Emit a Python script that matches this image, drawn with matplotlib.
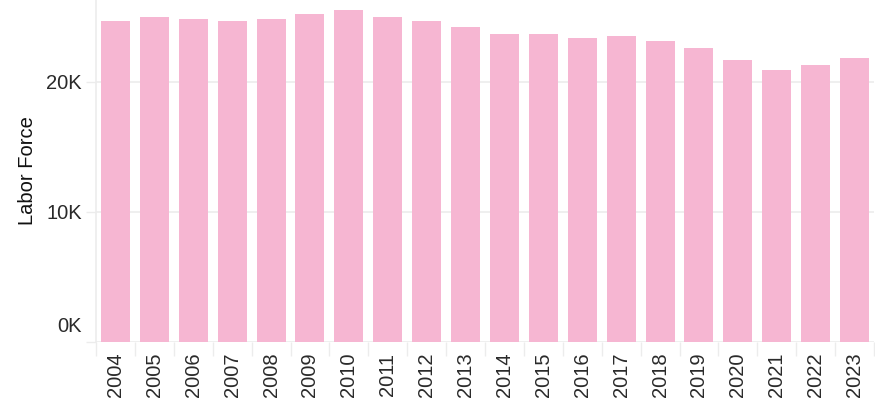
import numpy as np
import matplotlib
matplotlib.use("Agg")
import matplotlib.pyplot as plt
import matplotlib.transforms as mtransforms

# Labor force by year
years = [str(y) for y in range(2004, 2024)]
labor_force = [24680, 24990, 24830, 24680, 24830, 25220, 25530, 24990, 24680, 24220,
               23680, 23680, 23370, 23520, 23140, 22600, 21670, 20910, 21280, 21830]
y_ticks = [0, 10000, 20000]
y_tick_labels = ["0K", "10K", "20K"]

plt.rcParams['font.family'] = ['Liberation Sans', 'DejaVu Sans']

fig = plt.figure(figsize=(8.75, 4.04), dpi=100)
ax = fig.add_axes([96 / 875, 1 - 341.6 / 404, 778 / 875, 341.6 / 404])

x = np.arange(len(years))
ax.bar(x, labor_force, width=0.745, color="#f6b6d2", zorder=2)

ax.set_xlim(-0.5, len(years) - 0.5)
ax.set_ylim(0, 26300)

ax.set_yticks(y_ticks)
ax.set_yticklabels(y_tick_labels, fontsize=14.5, color="#2a2a2a")
ax.tick_params(axis="y", length=7, width=1, color="#ececec", pad=3)
ax.grid(axis="y", color="#ececec", linewidth=1.2, zorder=0)

# the 0K label sits above the baseline, like the original
lbl0 = ax.get_yticklabels()[0]
lbl0.set_verticalalignment("bottom")
lbl0.set_transform(lbl0.get_transform() + mtransforms.ScaledTranslation(0, 4 / 72, fig.dpi_scale_trans))

ax.set_xticks(x)
ax.set_xticklabels(years, rotation=90, fontsize=14.5, color="#2a2a2a")
ax.tick_params(axis="x", length=0, pad=8)
# divider marks between categories
ax.set_xticks(np.arange(-0.5, len(years)), minor=True)
ax.tick_params(axis="x", which="minor", length=10, width=1, color="#ececec")

for side in ["top", "right", "bottom"]:
    ax.spines[side].set_visible(False)
ax.spines["left"].set_color("#ececec")
ax.spines["left"].set_linewidth(1.2)

ax.set_ylabel("Labor Force", fontsize=14.5, color="#111111", labelpad=7)

fig.savefig("out.png", dpi=100)
